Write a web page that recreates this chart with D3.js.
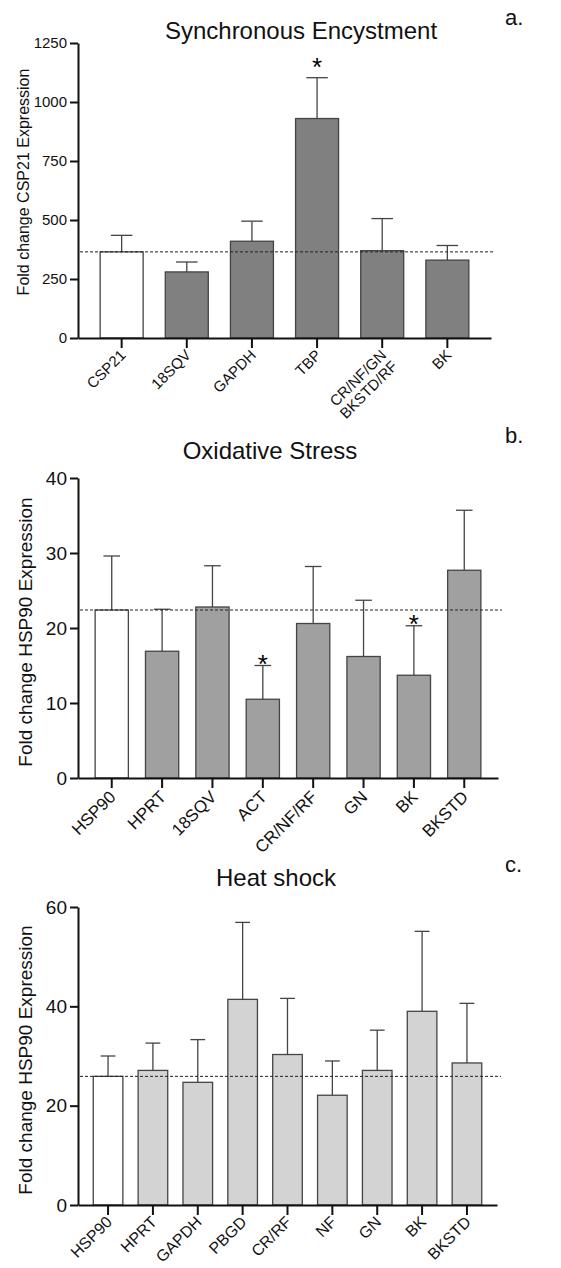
<!DOCTYPE html>
<html>
<head>
<meta charset="utf-8">
<script src="https://cdn.jsdelivr.net/npm/d3@7"></script>
<style>
  body { margin: 0; background: #fff; }
  svg { display: block; font-family: "Liberation Sans", Arial, sans-serif; }
  .dashed { stroke: #222; stroke-width: 1; stroke-dasharray: 3 2; fill: none; }
  .err { stroke: #444; stroke-width: 1.3; fill: none; }
  .bar { stroke: #444; stroke-width: 1.3; }
</style>
</head>
<body>
<div id="chart"></div>
<script>
// panel a - synchronous encystment
const catsA = ['CSP21', '18SQV', 'GAPDH', 'TBP', 'CR/NF/GN\nBKSTD/RF', 'BK'];
const meansA = [365, 280, 410, 930, 370, 330];
const sdA = [70, 42, 85, 173, 136, 62];
const starA = [false, false, false, true, false, false];
const ticksA = [0, 250, 500, 750, 1000, 1250];

// panel b - oxidative stress
const catsB = ['HSP90', 'HPRT', '18SQV', 'ACT', 'CR/NF/RF', 'GN', 'BK', 'BKSTD'];
const meansB = [22.4, 16.9, 22.8, 10.5, 20.6, 16.2, 13.7, 27.7];
const sdB = [7.2, 5.6, 5.5, 4.5, 7.6, 7.5, 6.6, 8.0];
const starB = [false, false, false, true, false, false, true, false];
const ticksB = [0, 10, 20, 30, 40];

// panel c - heat shock
const catsC = ['HSP90', 'HPRT', 'GAPDH', 'PBGD', 'CR/RF', 'NF', 'GN', 'BK', 'BKSTD'];
const meansC = [25.9, 27.1, 24.7, 41.4, 30.3, 22.1, 27.1, 39.0, 28.6];
const sdC = [4.1, 5.5, 8.6, 15.5, 11.3, 6.9, 8.1, 16.1, 12.0];
const starC = [false, false, false, false, false, false, false, false, false];
const ticksC = [0, 20, 40, 60];

const svg = d3.select('#chart').append('svg')
    .attr('width', 561)
    .attr('height', 1268);

function drawPanel(opt) {
    const g = svg.append('g');
    const x = d3.scaleBand()
        .domain(opt.cats)
        .range([opt.x0, opt.x1])
        .padding(0.34);
    const y = d3.scaleLinear()
        .domain([0, opt.ticks[opt.ticks.length - 1]])
        .range([opt.y0, opt.y1]);

    const rows = opt.cats.map((c, i) => ({
        cat: c, mean: opt.means[i], sd: opt.sd[i], star: opt.star[i], first: i === 0
    }));
    const cx = d => x(d.cat) + x.bandwidth() / 2;

    // error bars (upper only)
    const capW = x.bandwidth() / 2;
    g.selectAll('.errv').data(rows).enter().append('line')
        .attr('class', 'err')
        .attr('x1', cx)
        .attr('x2', cx)
        .attr('y1', d => y(d.mean))
        .attr('y2', d => y(d.mean + d.sd));
    g.selectAll('.errc').data(rows).enter().append('line')
        .attr('class', 'err')
        .attr('x1', d => cx(d) - capW / 2)
        .attr('x2', d => cx(d) + capW / 2)
        .attr('y1', d => y(d.mean + d.sd))
        .attr('y2', d => y(d.mean + d.sd));

    g.selectAll('.bar').data(rows).enter().append('rect')
        .attr('class', 'bar')
        .attr('x', d => x(d.cat))
        .attr('width', x.bandwidth())
        .attr('y', d => y(d.mean))
        .attr('height', d => y(0) - y(d.mean))
        .attr('fill', d => d.first ? '#fff' : opt.fill);

    // reference line at control level
    g.append('line')
        .attr('class', 'dashed')
        .attr('x1', opt.x0 + 2)
        .attr('x2', opt.x1 + 4)
        .attr('y1', y(opt.means[0]))
        .attr('y2', y(opt.means[0]));

    g.selectAll('.star').data(rows.filter(d => d.star)).enter().append('text')
        .attr('x', cx)
        .attr('y', d => y(d.mean + d.sd) + opt.starDy)
        .attr('text-anchor', 'middle')
        .style('font-size', '26px')
        .text('*');

    // axes
    const yAxis = g.append('g')
        .attr('transform', `translate(${opt.x0},0)`)
        .call(d3.axisLeft(y).tickValues(opt.ticks).tickFormat(d3.format('d'))
            .tickSize(8).tickSizeOuter(0).tickPadding(3));
    yAxis.selectAll('text')
        .style('font-size', opt.tickFont + 'px')
        .style('font-family', '"Liberation Sans", Arial, sans-serif')
        .attr('fill', '#111');

    const xAxis = g.append('g')
        .attr('transform', `translate(0,${opt.y0})`)
        .call(d3.axisBottom(x).tickSize(10).tickSizeOuter(0).tickFormat(''));
    [yAxis, xAxis].forEach(ax => {
        ax.select('.domain').attr('stroke', '#111').attr('stroke-width', 2);
        ax.selectAll('.tick line').attr('stroke', '#111').attr('stroke-width', 2);
    });

    // rotated category labels
    rows.forEach(d => {
        const t = g.append('text')
            .attr('transform', `translate(${cx(d) + opt.labDx},${opt.y0 + opt.labDy}) rotate(-45)`)
            .attr('text-anchor', 'end')
            .style('font-size', opt.labFont + 'px')
            .attr('fill', '#111');
        d.cat.split('\n').forEach((line, i) => {
            t.append('tspan').attr('x', 0).attr('dy', i === 0 ? 0 : '1.05em').text(line);
        });
    });

    // y title
    g.append('text')
        .attr('transform', `translate(${opt.yLabX},${opt.yLabY}) rotate(-90)`)
        .attr('text-anchor', 'middle')
        .style('font-size', opt.yLabFont + 'px')
        .attr('fill', '#111')
        .text(opt.yLabel);

    g.append('text')
        .attr('x', opt.titleX)
        .attr('y', opt.titleY)
        .attr('text-anchor', 'middle')
        .style('font-size', '24px')
        .attr('fill', '#111')
        .text(opt.title);

    g.append('text')
        .attr('x', 505)
        .attr('y', opt.tagY)
        .style('font-size', '22px')
        .attr('fill', '#111')
        .text(opt.tag);
}

drawPanel({
    cats: catsA, means: meansA, sd: sdA, star: starA, ticks: ticksA,
    x0: 78, x1: 491, y0: 338, y1: 43, fill: '#808080',
    tickFont: 15, labFont: 15, labDx: 5, labDy: 18, starDy: -2,
    yLabel: 'Fold change CSP21 Expression', yLabX: 29, yLabY: 182, yLabFont: 16,
    title: 'Synchronous Encystment', titleX: 301, titleY: 39, tag: 'a.', tagY: 25
});

drawPanel({
    cats: catsB, means: meansB, sd: sdB, star: starB, ticks: ticksB,
    x0: 78, x1: 498, y0: 778, y1: 478, fill: '#a0a0a0',
    tickFont: 19, labFont: 17, labDx: 5, labDy: 20, starDy: 7,
    yLabel: 'Fold change HSP90 Expression', yLabX: 32, yLabY: 632, yLabFont: 19,
    title: 'Oxidative Stress', titleX: 270, titleY: 459, tag: 'b.', tagY: 443
});

drawPanel({
    cats: catsC, means: meansC, sd: sdC, star: starC, ticks: ticksC,
    x0: 78, x1: 497, y0: 1205, y1: 907, fill: '#d3d3d3',
    tickFont: 19, labFont: 16, labDx: 5, labDy: 18, starDy: 7,
    yLabel: 'Fold change HSP90 Expression', yLabX: 32, yLabY: 1060, yLabFont: 19,
    title: 'Heat shock', titleX: 276, titleY: 886, tag: 'c.', tagY: 872
});
</script>
</body>
</html>
